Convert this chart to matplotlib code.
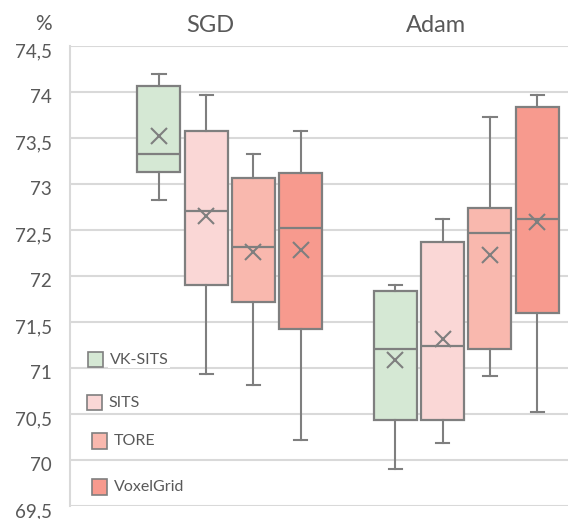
import matplotlib
matplotlib.use("Agg")
import matplotlib.pyplot as plt
import matplotlib.transforms as mtransforms
from matplotlib.patches import Rectangle

plt.rcParams['font.family'] = ['Lato', 'DejaVu Sans']

# data (accuracy, %)
optimizers = ["SGD", "Adam"]
methods = ["VK-SITS", "SITS", "TORE", "VoxelGrid"]
colors = ["#d5e8d4", "#fad7d6", "#f9b8ae", "#f79a8e"]

# [SGD, Adam] per method
whis_lo = {"VK-SITS": [72.83, 69.90], "SITS": [70.94, 70.19],
           "TORE": [70.82, 70.91], "VoxelGrid": [70.22, 70.52]}
q1 = {"VK-SITS": [73.13, 70.44], "SITS": [71.90, 70.44],
      "TORE": [71.72, 71.21], "VoxelGrid": [71.42, 71.60]}
med = {"VK-SITS": [73.33, 71.21], "SITS": [72.71, 71.24],
       "TORE": [72.32, 72.47], "VoxelGrid": [72.52, 72.62]}
q3 = {"VK-SITS": [74.06, 71.84], "SITS": [73.58, 72.37],
      "TORE": [73.07, 72.74], "VoxelGrid": [73.12, 73.84]}
whis_hi = {"VK-SITS": [74.20, 71.90], "SITS": [73.97, 72.62],
           "TORE": [73.33, 73.73], "VoxelGrid": [73.58, 73.97]}
mean = {"VK-SITS": [73.52, 71.09], "SITS": [72.65, 71.32],
        "TORE": [72.26, 72.23], "VoxelGrid": [72.28, 72.59]}

yticks = [69.5, 70, 70.5, 71, 71.5, 72, 72.5, 73, 73.5, 74, 74.5]
ytick_labels = ["69,5", "70", "70,5", "71", "71,5", "72", "72,5", "73", "73,5", "74", "74,5"]

edge = "#7f7f7f"
txt = "#595959"
grid = "#d9d9d9"

fig = plt.figure(figsize=(5.68, 5.19), dpi=100)
ax = fig.add_axes([70/568, 13/519, 498/568, 460/519])

group_gap = 5
for i, m in enumerate(methods):
    stats = []
    pos = []
    for g in range(len(optimizers)):
        stats.append(dict(whislo=whis_lo[m][g], q1=q1[m][g], med=med[m][g],
                          q3=q3[m][g], whishi=whis_hi[m][g], mean=mean[m][g],
                          fliers=[]))
        pos.append(g * group_gap + i)
    ax.bxp(stats, positions=pos, widths=0.91, capwidths=0.28,
           showmeans=True, patch_artist=True,
           boxprops=dict(facecolor=colors[i], edgecolor=edge, linewidth=1.6),
           medianprops=dict(color=edge, linewidth=1.6),
           whiskerprops=dict(color=edge, linewidth=1.5),
           capprops=dict(color=edge, linewidth=1.5),
           meanprops=dict(marker="x", markeredgecolor=edge, markersize=12,
                          markeredgewidth=1.5), zorder=3)

ax.set_xlim(-1.88, 8.65)
ax.set_ylim(69.5, 74.5)
ax.set_yticks(yticks)
ax.set_yticklabels(ytick_labels, fontsize=13.5, color=txt)
ax.set_xticks([])
ax.tick_params(axis="y", length=0, pad=13)
offset = mtransforms.ScaledTranslation(0, -4/100, fig.dpi_scale_trans)
for lab in ax.get_yticklabels():
    lab.set_transform(lab.get_transform() + offset)
ax.grid(axis="y", color=grid, linewidth=1.5, zorder=0)
ax.set_axisbelow(True)
for s in ["top", "right", "bottom"]:
    ax.spines[s].set_visible(False)
ax.spines["left"].set_color(grid)
ax.spines["left"].set_linewidth(1.5)

# group titles and unit
fig.text(210/568, 1 - 25/519, optimizers[0], fontsize=17, color=txt, ha="center", va="center")
fig.text(436/568, 1 - 25/519, optimizers[1], fontsize=17, color=txt, ha="center", va="center")
fig.text(43/568, 1 - 24/519, "%", fontsize=15, color=txt, ha="center", va="center")

# legend drawn by hand inside the plot
leg_y = [0.318, 0.224, 0.141, 0.041]
leg_x = [0.036, 0.034, 0.044, 0.044]
for i, m in enumerate(methods):
    ax.add_patch(Rectangle((leg_x[i], leg_y[i] - 0.016), 0.031, 0.033,
                           transform=ax.transAxes, facecolor=colors[i],
                           edgecolor=edge, linewidth=1.2, zorder=5))
    ax.text(leg_x[i] + 0.044, leg_y[i], m, transform=ax.transAxes,
            fontsize=11.5, color=txt, va="center", ha="left", zorder=5,
            bbox=dict(facecolor="white", edgecolor="none", pad=1))

fig.savefig("out.png", dpi=100)
